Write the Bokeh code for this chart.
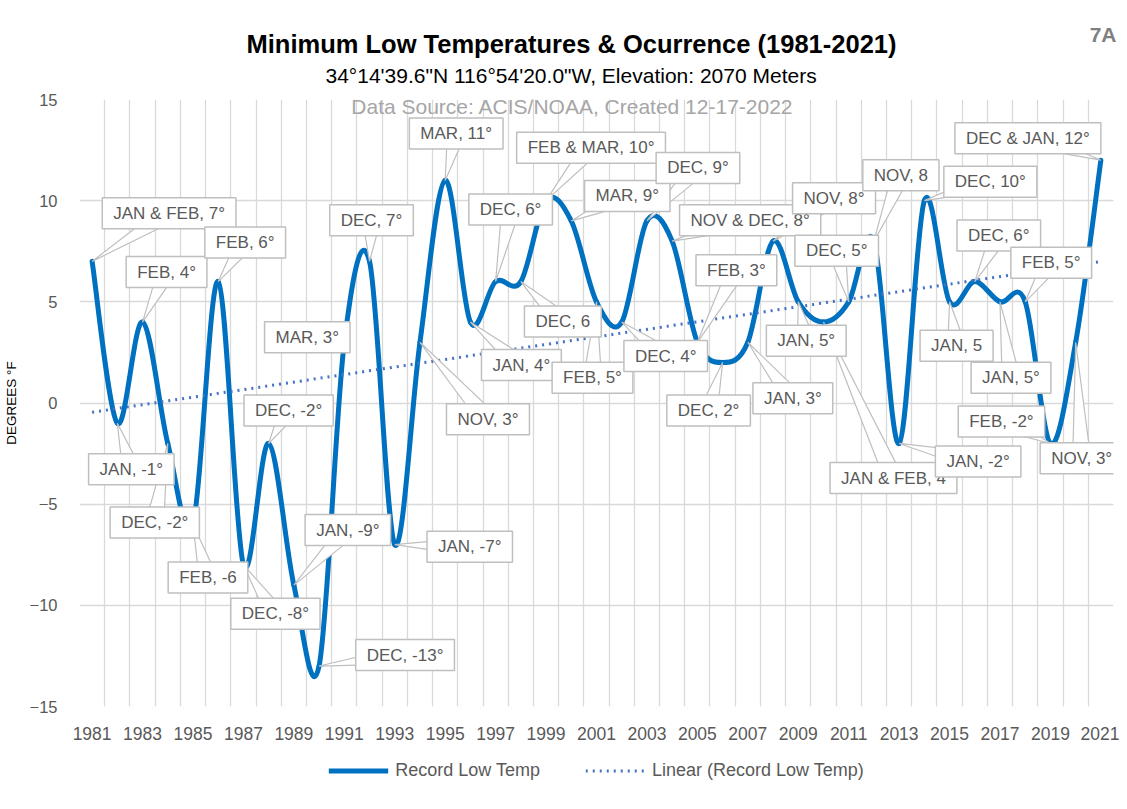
import numpy as np
from bokeh.plotting import figure
from bokeh.layouts import column
from bokeh.models import (Label, FixedTicker, Legend, LegendItem, Range1d,
                          ColumnDataSource, Title)
from bokeh.embed import file_html
from bokeh.resources import INLINE

# ---------------- data ----------------
years = list(range(1981, 2022))
temps = [7, -1, 4, -2, -6, 6, -8, -2, -9, -13,
         3, 7, -7, 3, 11, 4, 6, 6, 10, 9,
         5, 4, 9, 8, 3, 2, 3, 8, 5, 4,
         5, 8, -2, 10, 5, 6, 5, 5, -2, 3, 12]
labels = ["JAN & FEB, 7°", "JAN, -1°", "FEB, 4°", "DEC, -2°", "FEB, -6",
          "FEB, 6°", "DEC, -8°", "DEC, -2°", "JAN, -9°", "DEC, -13°",
          "MAR, 3°", "DEC, 7°", "JAN, -7°", "NOV, 3°", "MAR, 11°",
          "JAN, 4°", "DEC, 6°", "DEC, 6", "FEB & MAR, 10°", "MAR, 9°",
          "FEB, 5°", "DEC, 4°", "DEC, 9°", "NOV & DEC, 8°", "FEB, 3°",
          "DEC, 2°", "JAN, 3°", "NOV, 8°", "JAN, 5°", "JAN & FEB, 4",
          "DEC, 5°", "NOV, 8", "JAN, -2°", "DEC, 10°", "JAN, 5",
          "DEC, 6°", "JAN, 5°", "FEB, 5°", "FEB, -2°", "NOV, 3°",
          "DEC & JAN, 12°"]
x_tick_years = list(range(1981, 2022, 2))
y_ticks = [-15, -10, -5, 0, 5, 10, 15]

# ---------------- layout (callout box offsets in screen px: right, down) ----------------
offsets = [(77, -48), (14, 46), (24, -50), (-13, 79), (15, 53),
           (27, -39), (32, 49), (20, -33), (54, -55), (86, -11),
           (-37, -5), (2, -41), (75, 2), (68, 77), (11, -47),
           (51, 43), (15, -72), (42, 40), (45, -53), (56, -25),
           (-4, 76), (44, 34), (51, -53), (78, -21), (39, -72),
           (-14, 48), (45, 56), (61, -43), (8, 39), (70, 156),
           (-12, -51), (27, -66), (79, 18), (66, -19), (7, 44),
           (24, -46), (11, 76), (26, -39), (-49, -22), (6, 116),
           (-73, -22)]

FW, FH = 1034, 607
x0r, x1r = years[0] - 0.5, years[-1] + 0.5
y0r, y1r = -15, 15
sx = FW / (x1r - x0r)
sy = FH / (y1r - y0r)

FONT = "Liberation Sans"
BLUE = "#0070C0"
TREND = "#4472C4"
GREY_T = "#595959"

p = figure(frame_width=FW, frame_height=FH, output_backend="svg", toolbar_location=None,
           x_range=Range1d(x0r, x1r), y_range=Range1d(y0r, y1r),
           min_border_left=79, min_border_right=6,
           min_border_top=0, min_border_bottom=0)
p.outline_line_color = None
p.border_fill_color = "white"
p.background_fill_color = "white"

# grid
p.xgrid.ticker = FixedTicker(ticks=[y + 0.5 for y in range(years[0] - 1, years[-1] + 1)])
p.ygrid.ticker = FixedTicker(ticks=y_ticks)
p.xgrid.grid_line_color = "#d9d9d9"
p.ygrid.grid_line_color = "#d9d9d9"
p.xgrid.grid_line_width = 1.3
p.ygrid.grid_line_width = 1.3

# axes
for ax in (p.xaxis[0], p.yaxis[0]):
    ax.axis_line_color = None
    ax.major_tick_line_color = None
    ax.minor_tick_line_color = None
    ax.major_tick_out = 0
    ax.major_tick_in = 0
    ax.major_label_text_color = GREY_T
    ax.major_label_text_font = FONT
p.xaxis.major_label_text_font_size = "17.5px"
p.yaxis.major_label_text_font_size = "16.5px"
p.xaxis.ticker = FixedTicker(ticks=x_tick_years)
p.xaxis.major_label_standoff = 20
p.yaxis.ticker = FixedTicker(ticks=y_ticks)
p.yaxis.major_label_standoff = 22
p.yaxis.axis_label = "DEGREES °F"
p.yaxis.axis_label_text_font = FONT
p.yaxis.axis_label_text_font_size = "13.5px"
p.yaxis.axis_label_text_font_style = "normal"
p.yaxis.axis_label_text_color = "#000000"
p.yaxis.axis_label_standoff = 8

# smoothed line (Catmull-Rom style Bezier segments through the data)
xa = np.array(years, dtype=float)
ya = np.array(temps, dtype=float)
n = len(xa)
xp = np.concatenate([[xa[0]], xa, [xa[-1]]])
yp = np.concatenate([[ya[0]], ya, [ya[-1]]])
seg = dict(x0=[], y0=[], x1=[], y1=[], cx0=[], cy0=[], cx1=[], cy1=[])
for i in range(n - 1):
    a, b, c, d = i, i + 1, i + 2, i + 3
    seg["x0"].append(xp[b]); seg["y0"].append(yp[b])
    seg["x1"].append(xp[c]); seg["y1"].append(yp[c])
    seg["cx0"].append(xp[b] + (xp[c] - xp[a]) / 6)
    seg["cy0"].append(yp[b] + (yp[c] - yp[a]) / 6)
    seg["cx1"].append(xp[c] - (xp[d] - xp[b]) / 6)
    seg["cy1"].append(yp[c] - (yp[d] - yp[b]) / 6)
curve = p.bezier(x0="x0", y0="y0", x1="x1", y1="y1", cx0="cx0", cy0="cy0",
                 cx1="cx1", cy1="cy1", source=ColumnDataSource(seg),
                 line_color=BLUE, line_width=5, line_cap="round")

# linear trend
coef = np.polyfit(xa, ya, 1)
trend = p.line([xa[0], xa[-1]], list(np.polyval(coef, [xa[0], xa[-1]])),
               line_color=TREND, line_width=3, line_dash="2 5")

# callouts
tri_x, tri_y = [], []
for yr, t, (dx, dy) in zip(years, temps, offsets):
    L = max(np.hypot(dx, dy), 1e-6)
    px, py = -dy / L * 9, dx / L * 9
    tri_x.append([yr, yr + (dx + px) / sx, yr + (dx - px) / sx])
    tri_y.append([t, t - (dy + py) / sy, t - (dy - py) / sy])
p.patches(tri_x, tri_y, fill_color="white", line_color="#bfbfbf", line_width=1.2)

for yr, t, (dx, dy), txt in zip(years, temps, offsets, labels):
    p.add_layout(Label(x=yr + dx / sx, y=t - dy / sy, text=txt,
                       text_align="center", text_baseline="middle",
                       text_font=FONT, text_font_size="17px",
                       text_color=GREY_T,
                       background_fill_color="white", background_fill_alpha=1.0,
                       border_line_color="#bfbfbf", border_line_width=1.5,
                       padding=dict(left=11, right=11, top=6, bottom=6)))

p.add_layout(Label(x=x0r + FW / 2 / sx - 24 / sx, y=y1r, y_offset=-7,
                   text="Data Source: ACIS/NOAA, Created 12-17-2022",
                   text_align="center", text_baseline="middle", text_font=FONT,
                   text_font_size="21px", text_color="#a6a6a6"))

# titles (stacked outward from the plot frame)
p.add_layout(Title(text="34°14'39.6\"N 116°54'20.0\"W, Elevation: 2070 Meters",
                   align="left", offset=246, text_font=FONT, text_font_size="21px",
                   text_font_style="normal", text_color="#000000", standoff=26), "above")
p.add_layout(Title(text="Minimum Low Temperatures & Ocurrence (1981-2021)",
                   align="left", offset=167, text_font=FONT, text_font_size="25.5px",
                   text_font_style="bold", text_color="#000000", standoff=-18), "above")
p.add_layout(Title(text="7A", align="right", offset=-3, text_font=FONT, text_font_size="21px",
                   text_font_style="bold", text_color="#7f7f7f", standoff=-19), "above")
p.add_layout(Title(text="\u00a0", text_font_size="10px", standoff=17), "above")

# legend strip below the chart
lg = figure(width=1119, height=56, output_backend="svg", toolbar_location=None,
            x_range=Range1d(0, 1), y_range=Range1d(0, 1),
            min_border_left=36, min_border_right=0, min_border_top=0, min_border_bottom=0)
lg.axis.visible = False
lg.grid.visible = False
lg.outline_line_color = None
lg.border_fill_color = "white"
leg_curve = lg.line(x=[np.nan], y=[np.nan], line_color=BLUE, line_width=5)
leg_trend = lg.line(x=[np.nan], y=[np.nan], line_color=TREND, line_width=3, line_dash="2 5")
legend = Legend(items=[LegendItem(label="Record Low Temp", renderers=[leg_curve]),
                       LegendItem(label="Linear (Record Low Temp)", renderers=[leg_trend])],
                orientation="horizontal", location="center",
                border_line_color=None, background_fill_alpha=0,
                label_text_font=FONT, label_text_font_size="18px",
                label_text_color=GREY_T, glyph_width=60, label_standoff=7,
                spacing=45, margin=0, padding=4)
lg.add_layout(legend)

open("out.html", "w").write(file_html(column(p, lg, spacing=0), INLINE))
